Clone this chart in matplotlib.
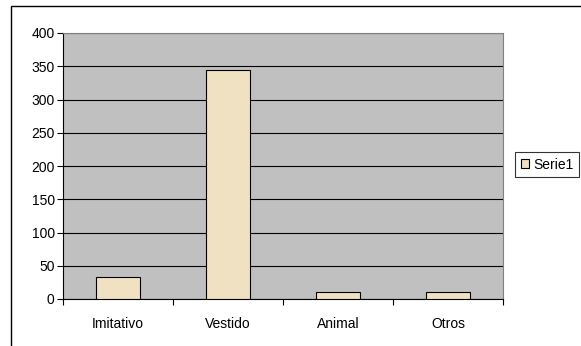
import numpy as np
import matplotlib.pyplot as plt
from matplotlib.patches import Patch, Rectangle

plt.rcParams['font.family'] = ['Liberation Sans', 'DejaVu Sans']

# Data
categorias = ['Imitativo', 'Vestido', 'Animal', 'Otros']
serie1 = [33, 344, 10, 10]
y_ticks = [0, 50, 100, 150, 200, 250, 300, 350, 400]

bar_color = '#F0E1C2'

fig = plt.figure(figsize=(5.81, 3.46), dpi=100)
W, H = 581, 346
# plot area in pixels: left 63, right 503, top 33, bottom 299
ax = fig.add_axes([63 / W, 1 - 299 / H, (503 - 63) / W, (299 - 33) / H])
ax.set_facecolor('#C0C0C0')

x = np.arange(len(categorias))
ax.bar(x, serie1, width=0.4, color=bar_color, edgecolor='black', linewidth=0.8, zorder=3)

ax.set_xlim(-0.5, len(categorias) - 0.5)
ax.set_ylim(0, 400)
ax.set_yticks(y_ticks)
ax.set_yticklabels([str(v) for v in y_ticks], fontsize=10)
ax.yaxis.grid(True, color='black', linewidth=0.8, zorder=1)

# category labels between boundary ticks
ax.set_xticks(np.arange(-0.5, len(categorias), 1.0))
ax.set_xticklabels([])
ax.set_xticks(x, minor=True)
ax.set_xticklabels(categorias, minor=True, fontsize=10)
ax.tick_params(axis='x', which='minor', length=0, pad=13)
ax.tick_params(axis='x', which='major', length=4, width=0.8, color='black')
ax.tick_params(axis='y', length=4, width=0.8, pad=2)

for side in ['top', 'right']:
    ax.spines[side].set_color('#808080')
    ax.spines[side].set_linewidth(0.8)
ax.spines['left'].set_color('black')
ax.spines['bottom'].set_color('black')
ax.spines['left'].set_linewidth(0.8)
ax.spines['bottom'].set_linewidth(0.8)

# legend
handles = [Patch(facecolor=bar_color, edgecolor='black', linewidth=0.8, label='Serie1')]
leg = fig.legend(handles=handles, loc='upper left',
                 bbox_to_anchor=(515 / W, 1 - 152 / H),
                 fontsize=10, frameon=True, fancybox=False,
                 handlelength=0.6, handleheight=0.6, handletextpad=0.3,
                 borderpad=0.4, borderaxespad=0)
leg.get_frame().set_edgecolor('black')
leg.get_frame().set_linewidth(0.8)

# outer chart border
fig.patches.append(Rectangle((11 / W, -0.02), 1.05, 1 - 6 / H + 0.02,
                             transform=fig.transFigure, fill=False,
                             edgecolor='black', linewidth=1.0))

plt.savefig('out.png', dpi=100)
